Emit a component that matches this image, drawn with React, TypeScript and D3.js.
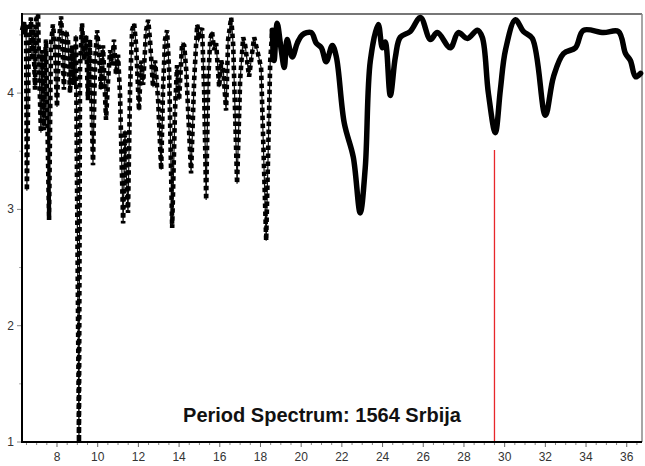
import { useEffect, useRef } from 'react';
import * as d3 from 'd3';

// period (years) vs. spectral value
const SPECTRUM: [number, number][] = [
  [6.28, 4.54], [6.38, 4.61], [6.43, 4.5], [6.48, 4.59], [6.52, 3.16], [6.62, 4.46], [6.72, 4.65], [6.77, 4.28],
  [6.82, 4.59], [6.92, 4.03], [6.97, 4.63], [7.07, 4.68], [7.11, 4.28], [7.21, 3.66], [7.26, 4.37], [7.36, 3.68],
  [7.41, 4.28], [7.46, 4.46], [7.61, 2.91], [7.7, 4.41], [7.8, 4.59], [7.9, 4.41], [8.0, 3.88], [8.1, 4.46],
  [8.2, 4.66], [8.25, 4.5], [8.34, 4.03], [8.44, 4.54], [8.54, 4.46], [8.64, 4.0], [8.74, 4.41], [8.84, 4.07],
  [8.93, 4.5], [9.08, 1.0], [9.13, 4.2], [9.23, 4.6], [9.33, 4.28], [9.43, 4.5], [9.52, 3.94], [9.62, 4.46],
  [9.77, 3.38], [9.87, 4.28], [9.97, 4.54], [10.07, 4.33], [10.16, 4.03], [10.26, 4.41], [10.41, 3.77], [10.51, 4.11],
  [10.61, 4.37], [10.71, 4.24], [10.8, 4.46], [10.9, 4.16], [11.0, 4.33], [11.1, 3.98], [11.25, 2.88], [11.34, 3.68],
  [11.39, 3.38], [11.49, 2.97], [11.59, 4.03], [11.69, 4.54], [11.79, 4.6], [11.89, 4.41], [12.03, 3.85], [12.13, 4.28],
  [12.23, 4.07], [12.38, 4.54], [12.48, 4.63], [12.57, 4.46], [12.72, 4.05], [12.82, 4.28], [12.97, 3.94], [13.12, 3.34],
  [13.21, 4.03], [13.31, 4.46], [13.41, 4.54], [13.51, 4.2], [13.66, 2.84], [13.8, 3.85], [13.9, 4.24], [14.0, 3.94],
  [14.15, 4.43], [14.25, 4.41], [14.35, 4.2], [14.59, 3.31], [14.74, 4.11], [14.89, 4.59], [14.99, 4.5], [15.13, 4.56],
  [15.23, 4.03], [15.33, 3.08], [15.43, 4.11], [15.53, 4.46], [15.62, 4.53], [15.72, 4.37], [15.82, 4.43], [15.97, 4.05],
  [16.07, 4.28], [16.17, 4.2], [16.31, 3.85], [16.41, 4.46], [16.56, 4.65], [16.66, 4.41], [16.85, 3.22], [17.0, 4.11],
  [17.15, 4.48], [17.25, 4.41], [17.44, 4.14], [17.54, 4.28], [17.69, 4.48], [17.89, 4.33], [18.03, 4.22], [18.28, 2.73],
  [18.48, 4.28], [18.58, 4.54],
  [18.67, 4.28], [18.82, 4.6], [19.02, 4.37], [19.17, 4.22], [19.31, 4.46], [19.56, 4.31], [19.81, 4.43], [20.05, 4.5],
  [20.49, 4.52], [20.74, 4.43], [20.99, 4.39], [21.23, 4.27], [21.53, 4.41], [21.73, 4.31], [22.12, 3.74], [22.56, 3.45],
  [22.9, 2.97], [23.15, 3.36], [23.4, 4.28], [23.79, 4.59], [23.99, 4.39], [24.13, 4.44], [24.38, 3.98], [24.63, 4.31],
  [24.87, 4.48], [25.36, 4.53], [25.86, 4.65], [26.35, 4.46], [26.69, 4.52], [27.33, 4.39], [27.72, 4.52], [28.17, 4.47],
  [28.66, 4.54], [28.9, 4.48], [29.2, 4.0], [29.54, 3.66], [29.79, 4.03], [30.04, 4.37], [30.53, 4.63], [30.92, 4.53],
  [31.36, 4.47], [32.0, 3.81], [32.4, 4.14], [32.89, 4.34], [33.48, 4.39], [33.87, 4.54], [34.86, 4.52], [35.59, 4.53],
  [35.94, 4.34], [36.18, 4.28], [36.43, 4.14], [36.68, 4.17],
];

// beyond this period the markers merge into a solid thick line
const DENSE_FROM = 18.58;

const X_TICKS = [8, 10, 12, 14, 16, 18, 20, 22, 24, 26, 28, 30, 32, 34, 36];
const Y_TICKS = [1, 2, 3, 4];

const MARKED_PERIOD = 29.5;
const MARKED_TOP = 3.51;

const TITLE = 'Period Spectrum: 1564 Srbija';

const WIDTH = 645;
const HEIGHT = 466;

export default function App() {
  const svgRef = useRef<SVGSVGElement>(null);

  useEffect(() => {
    if (!svgRef.current) return;
    const svg = d3.select(svgRef.current);
    svg.selectAll('*').remove();

    const left = 22, right = 642, top = 14, bottom = 442;

    const x = d3.scaleLinear().domain([6.28, 36.75]).range([left, right]);
    const y = d3.scaleLinear().domain([1, 4.68]).range([bottom, top]);

    svg.append('rect').attr('width', WIDTH).attr('height', HEIGHT).attr('fill', '#fff');

    // minor + major ticks, left
    const yMinor = d3.range(1.5, 4.6, 1);
    svg.append('g').selectAll('line').data(yMinor).join('line')
      .attr('x1', left - 3).attr('x2', left)
      .attr('y1', d => y(d)).attr('y2', d => y(d))
      .attr('stroke', '#aaa').attr('stroke-width', 1);
    svg.append('g').selectAll('line').data(Y_TICKS).join('line')
      .attr('x1', left - 5).attr('x2', left)
      .attr('y1', d => y(d)).attr('y2', d => y(d))
      .attr('stroke', '#888').attr('stroke-width', 1);
    svg.append('g').selectAll('text').data(Y_TICKS).join('text')
      .attr('x', left - 8).attr('y', d => y(d))
      .attr('text-anchor', 'end').attr('dominant-baseline', 'central')
      .attr('font-family', 'Liberation Sans, Arial, sans-serif')
      .attr('font-size', '12px').attr('fill', '#333')
      .text(d => d);

    // bottom ticks
    const xMinor = d3.range(6.5, 36.6, 0.5).filter(d => d % 2 !== 0);
    svg.append('g').selectAll('line').data(xMinor).join('line')
      .attr('x1', d => x(d)).attr('x2', d => x(d))
      .attr('y1', bottom).attr('y2', bottom + 3)
      .attr('stroke', '#888').attr('stroke-width', 1);
    svg.append('g').selectAll('line').data(X_TICKS).join('line')
      .attr('x1', d => x(d)).attr('x2', d => x(d))
      .attr('y1', bottom).attr('y2', bottom + 5)
      .attr('stroke', '#666').attr('stroke-width', 1);
    svg.append('g').selectAll('text').data(X_TICKS).join('text')
      .attr('x', d => x(d)).attr('y', 461)
      .attr('text-anchor', 'middle')
      .attr('font-family', 'Liberation Sans, Arial, sans-serif')
      .attr('font-size', '12px').attr('fill', '#333')
      .text(d => d);

    // frame
    svg.append('line').attr('x1', left).attr('x2', right).attr('y1', top).attr('y2', top)
      .attr('stroke', '#777').attr('stroke-width', 2);
    svg.append('line').attr('x1', right).attr('x2', right).attr('y1', top).attr('y2', bottom)
      .attr('stroke', '#888').attr('stroke-width', 1.5);

    // red marker line
    svg.append('line')
      .attr('x1', x(MARKED_PERIOD)).attr('x2', x(MARKED_PERIOD))
      .attr('y1', y(MARKED_TOP)).attr('y2', bottom)
      .attr('stroke', '#e8262b').attr('stroke-width', 1.3);

    const sparse = SPECTRUM.filter(d => d[0] <= DENSE_FROM);
    const dense = SPECTRUM.filter(d => d[0] >= DENSE_FROM);

    const line = d3.line<[number, number]>().x(d => x(d[0])).y(d => y(d[1]));

    // thin connecting line
    svg.append('path').datum(sparse).attr('d', line)
      .attr('fill', 'none').attr('stroke', '#111').attr('stroke-width', 1.2);
    // square markers along the sparse part
    svg.append('path').datum(sparse).attr('d', line)
      .attr('fill', 'none').attr('stroke', '#000').attr('stroke-width', 4.6)
      .attr('stroke-dasharray', '4.5 3.5');

    // dense part: markers overlap into a thick line
    svg.append('path').datum(dense)
      .attr('d', line.curve(d3.curveCatmullRom.alpha(0.5)))
      .attr('fill', 'none').attr('stroke', '#000').attr('stroke-width', 5.5)
      .attr('stroke-linejoin', 'round').attr('stroke-linecap', 'round');

    // axes lines
    svg.append('line').attr('x1', left).attr('x2', left).attr('y1', top - 1).attr('y2', bottom + 1)
      .attr('stroke', '#000').attr('stroke-width', 2);
    svg.append('line').attr('x1', left).attr('x2', right).attr('y1', bottom).attr('y2', bottom)
      .attr('stroke', '#000').attr('stroke-width', 2);

    // title
    svg.append('text')
      .attr('x', 322).attr('y', 422)
      .attr('text-anchor', 'middle')
      .attr('font-family', 'Liberation Sans, Arial, sans-serif')
      .attr('font-size', '20px').attr('font-weight', '700').attr('fill', '#111')
      .text(TITLE);
  }, []);

  return (
    <div style={{ position: 'absolute', left: 0, top: 0 }}>
      <svg ref={svgRef} width={WIDTH} height={HEIGHT} style={{ display: 'block' }} />
    </div>
  );
}
